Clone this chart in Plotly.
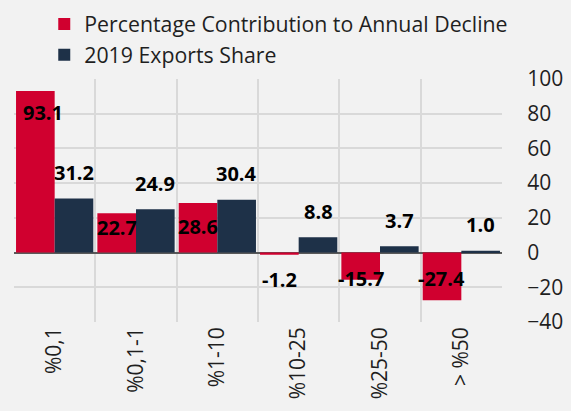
import plotly.graph_objects as go

# Export-share buckets and the two series plotted for each
categories = ["%0,1", "%0,1-1", "%1-10", "%10-25", "%25-50", "> %50"]
contribution = [93.1, 22.7, 28.6, -1.2, -15.7, -27.4]
export_share = [31.2, 24.9, 30.4, 8.8, 3.7, 1.0]
y_ticks = [-40, -20, 0, 20, 40, 60, 80, 100]

RED = "#D0002F"
NAVY = "#1E3148"
FONT = "Open Sans"
TEXT = "#1F1F1F"

# pixel offsets of the value labels relative to each bar's end
red_label_dy = [-23, -15, -25, -26, 0, 20.5]
red_label_dx = [8, 0, 0, 0, 0, 0]
navy_label_dy = 25
half_bar_px = 19.4
label_nudge = 1

fig = go.Figure()
fig.add_trace(go.Bar(
    x=categories, y=contribution, name="Percentage Contribution to Annual Decline",
    marker=dict(color=RED, line=dict(width=0)), legendgroup="a",
))
fig.add_trace(go.Bar(
    x=categories, y=export_share, name="2019 Exports Share",
    marker=dict(color=NAVY, line=dict(width=0)), legendgroup="b",
))

label_font = dict(family=FONT, size=20, color="#000000", weight="bold")
annotations = []
for cat, v, dy, dx in zip(categories, contribution, red_label_dy, red_label_dx):
    annotations.append(dict(
        x=cat, y=v, xref="x", yref="y", text=f"{v:.1f}", showarrow=False,
        xshift=-half_bar_px + dx, yshift=dy + label_nudge, yanchor="middle",
        font=label_font,
    ))
for cat, v in zip(categories, export_share):
    annotations.append(dict(
        x=cat, y=v, xref="x", yref="y", text=f"{v:.1f}", showarrow=False,
        xshift=half_bar_px, yshift=navy_label_dy + label_nudge, yanchor="middle",
        font=label_font,
    ))

fig.update_layout(
    width=571, height=411,
    margin=dict(l=14, r=69, t=79, b=89, autoexpand=False),
    paper_bgcolor="#F2F2F2", plot_bgcolor="#F2F2F2",
    barmode="group", bargap=0.05, bargroupgap=0,
    font=dict(family=FONT, size=21, color=TEXT),
    showlegend=True,
    legend=dict(
        x=0.062, y=1.31, xanchor="left", yanchor="top",
        orientation="v", traceorder="normal", tracegroupgap=2,
        bgcolor="rgba(0,0,0,0)", font=dict(family=FONT, size=21.3, color=TEXT),
    ),
    annotations=annotations,
)
fig.update_xaxes(
    type="category", tickson="boundaries", showgrid=True,
    gridcolor="#D9D9D9", gridwidth=1.5, tickangle=-90,
    ticks="outside", ticklen=24, tickcolor="rgba(0,0,0,0)",
    showline=False, zeroline=False, automargin=False,
    tickfont=dict(family=FONT, size=21, color=TEXT),
)
fig.update_yaxes(
    side="right", range=[-40, 100], tickvals=y_ticks,
    showgrid=True, gridcolor="#D9D9D9", gridwidth=1.5,
    zeroline=True, zerolinecolor="#595959", zerolinewidth=1.5,
    ticks="outside", ticklen=20, tickcolor="rgba(0,0,0,0)",
    showline=False, automargin=False,
    tickfont=dict(family=FONT, size=21, color=TEXT),
)

fig.write_html("out.html")
